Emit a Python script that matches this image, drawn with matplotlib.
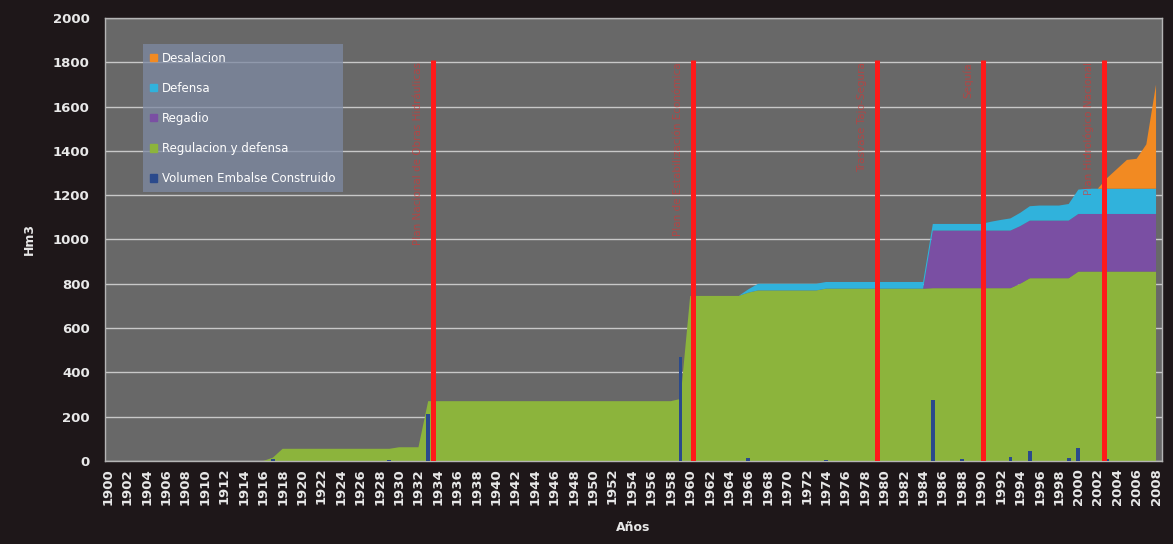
import numpy as np
import matplotlib.pyplot as plt
from matplotlib.patches import Patch

years = list(range(1900, 2009))

# Hm3 per year, 1900-2008 (10 values per row)
regulacion = [
    0, 0, 0, 0, 0, 0, 0, 0, 0, 0,                    # 1900
    0, 0, 0, 0, 0, 0, 0, 15, 55, 55,                 # 1910
    55, 55, 55, 55, 55, 55, 55, 55, 55, 55,          # 1920
    62, 62, 62, 270, 270, 270, 270, 270, 270, 270,   # 1930
    270, 270, 270, 270, 270, 270, 270, 270, 270, 270,  # 1940
    270, 270, 270, 270, 270, 270, 270, 270, 270, 280,  # 1950
    745, 745, 745, 745, 745, 745, 760, 770, 770, 770,  # 1960
    770, 770, 770, 770, 778, 778, 778, 778, 778, 778,  # 1970
    778, 778, 778, 778, 778, 780, 780, 780, 780, 780,  # 1980
    780, 780, 780, 780, 800, 825, 825, 825, 825, 825,  # 1990
    855, 855, 855, 855, 855, 855, 855, 855, 855,       # 2000
]
regadio = [0] * 85 + [260] * 24
defensa = [0] * 66 + [
    15, 30, 30, 30,                                  # 1966
    30, 30, 30, 30, 30, 30, 30, 30, 30, 30,          # 1970
    30, 30, 30, 30, 30, 30, 30, 30, 30, 30,          # 1980
    30, 40, 48, 55, 60, 65, 68, 68, 68, 75,          # 1990
    110, 114, 114, 114, 114, 114, 114, 114, 114,     # 2000
]
desalacion = [0] * 103 + [50, 90, 130, 135, 200, 470]

# volume of reservoirs built in each year
embalse_years = [1917, 1929, 1933, 1959, 1966, 1974, 1985, 1988, 1993, 1995, 1999, 2000, 2003]
embalse_vol = [10, 5, 210, 470, 15, 5, 275, 8, 20, 45, 15, 60, 10]

event_years = [1933.5, 1960.3, 1979.2, 1990.2, 2002.6]
event_labels = ["Plan Nacional de Obras Hidráulicas", "Plan de Estabilización Económica",
                "Trasvase Tajo-Segura", "Sequía", "Plan Hidrológico Nacional"]

bg = "#1e1719"
c_green = "#8cb43c"
c_purple = "#7a4fa3"
c_cyan = "#30b2dc"
c_orange = "#f28a22"
c_navy = "#2b4a8c"
txt = "#e8e8e8"

fig = plt.figure(figsize=(11.73, 5.44), dpi=100, facecolor=bg)
ax = fig.add_axes([0.0895, 0.1526, 0.901, 0.8145])
ax.set_facecolor("#686868")

ax.stackplot(years, regulacion, regadio, defensa, desalacion,
             colors=[c_green, c_purple, c_cyan, c_orange], zorder=2)
ax.bar(embalse_years, embalse_vol, width=0.4, color=c_navy, zorder=3)

for yr, lab in zip(event_years, event_labels):
    ax.plot([yr, yr], [0, 1810], color="#ff1a1a", lw=3.6, zorder=4, solid_capstyle="butt")
    ax.text(yr - 1.0, 1800, lab, rotation=90, ha="right", va="top", fontsize=7.5,
            color="#e0302f", alpha=0.6, zorder=4)

ax.set_xlim(1899.7, 2008.6)
ax.set_ylim(0, 2000)
ax.set_xticks(range(1900, 2009, 2))
ax.set_xticklabels([str(y) for y in range(1900, 2009, 2)], rotation=90)
ax.set_yticks(range(0, 2001, 200))
ax.tick_params(colors=txt, labelsize=9.5, length=0)
ax.tick_params(axis="y", pad=11)
ax.tick_params(axis="x", pad=5)
for lab in ax.get_xticklabels() + ax.get_yticklabels():
    lab.set_fontweight("bold")

ax.set_axisbelow(True)
ax.grid(axis="y", color="#c8c8c8", lw=1.0)
for s in ax.spines.values():
    s.set_color("#b5b5b5")
    s.set_linewidth(1.0)

ax.set_ylabel("Hm3", color=txt, fontsize=9, fontweight="bold", labelpad=12)
ax.set_xlabel("Años", color=txt, fontsize=9, fontweight="bold", labelpad=12)

handles = [Patch(color=c_orange, label="Desalacion"),
           Patch(color=c_cyan, label="Defensa"),
           Patch(color=c_purple, label="Regadio"),
           Patch(color=c_green, label="Regulacion y defensa"),
           Patch(color=c_navy, label="Volumen Embalse Construido")]
leg = ax.legend(handles=handles, loc="upper left", bbox_to_anchor=(0.036, 0.94),
                borderaxespad=0, fontsize=8.5, labelcolor="white",
                handlelength=0.6, handleheight=0.6, handletextpad=0.4,
                labelspacing=1.45, borderpad=0.6, fancybox=False,
                facecolor="#7e8aa3", edgecolor="none", framealpha=0.75)
leg.set_zorder(5)

fig.savefig("out.png", dpi=100, facecolor=bg)
